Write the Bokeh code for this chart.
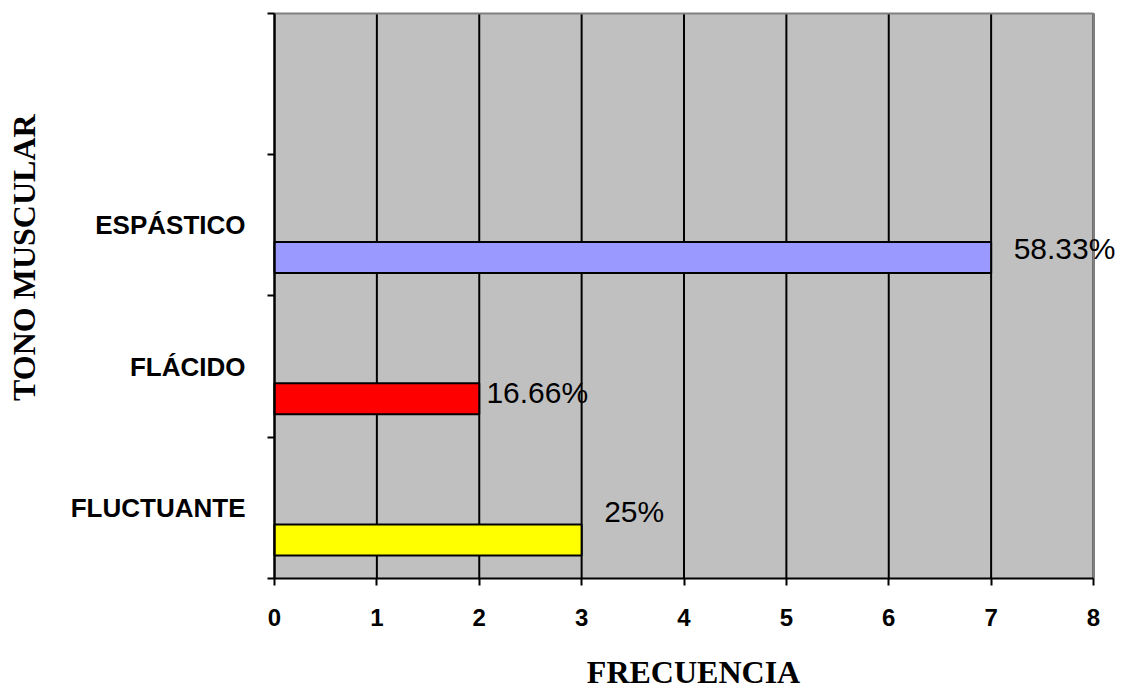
from bokeh.plotting import figure
from bokeh.models import Range1d, FixedTicker, ColumnDataSource
from bokeh.embed import file_html
from bokeh.resources import INLINE
from bokeh.core.properties import value

# Data: frequency per muscle tone category (bottom to top)
categories = ["FLUCTUANTE", "FLÁCIDO", "ESPÁSTICO"]
frecuencia = [3, 2, 7]
porcentajes = ["25%", "16.66%", "58.33%"]
bar_colors = ["#FFFF00", "#FF0000", "#9999FF"]
x_ticks = [0, 1, 2, 3, 4, 5, 6, 7, 8]
band_edges = [0, 1, 2, 3, 4]

# Layout of the value labels: horizontal gap after the bar end (x units)
# and vertical position inside each category band (band units)
label_dx = [0.22, 0.07, 0.22]
label_dy = [0.474, 0.317, 0.336]

X_MAX, Y_MAX = 8, 4
BAR_POS = 0.2725     # bar centre inside its band
BAR_HEIGHT = 0.219
# axis title anchors (data units of the full-page frame)
Y_TITLE_X, Y_TITLE_Y = -2.442, 2.300
X_TITLE_X, X_TITLE_Y = 4.093, -0.665

band = list(range(len(categories)))
bars = ColumnDataSource(dict(
    y=[b + BAR_POS for b in band],
    right=frecuencia,
    color=bar_colors,
))
labels = ColumnDataSource(dict(
    x=[v + dx for v, dx in zip(frecuencia, label_dx)],
    y=[b + dy for b, dy in zip(band, label_dy)],
    text=porcentajes,
))

# The frame covers the whole page; the grey plot area spans 0..X_MAX by
# 0..Y_MAX and both axes are pinned at 0 so nothing gets clipped.
p = figure(
    width=1123, height=694,
    x_range=Range1d(-2.6764, 8.293), y_range=Range1d(-0.8212, 4.0920),
    min_border=0,
    background_fill_color="white", border_fill_color="white",
    outline_line_color=None,
    output_backend="svg", toolbar_location=None,
)
p.xgrid.visible = False
p.ygrid.visible = False

# grey plot area, vertical grid lines and top/right border
p.quad(left=0, right=X_MAX, bottom=0, top=Y_MAX,
       fill_color="#C0C0C0", line_color=None, level="image")
p.segment(x0=x_ticks, y0=[0] * len(x_ticks), x1=x_ticks, y1=[Y_MAX] * len(x_ticks),
          line_color="black", line_width=2)
p.segment(x0=[0, X_MAX], y0=[Y_MAX, 0], x1=[X_MAX, X_MAX], y1=[Y_MAX, Y_MAX],
          line_color="#808080", line_width=2)

# x axis
xa = p.xaxis[0]
xa.fixed_location = 0
xa.bounds = (0, X_MAX)
xa.ticker = FixedTicker(ticks=x_ticks, minor_ticks=[])
xa.axis_line_color = "black"
xa.axis_line_width = 2
xa.major_tick_out = 7
xa.major_tick_in = 0
xa.major_tick_line_color = "black"
xa.major_tick_line_width = 2
xa.minor_tick_line_color = None
xa.major_label_text_font = "Liberation Sans"
xa.major_label_text_font_size = "24px"
xa.major_label_text_font_style = "bold"
xa.major_label_text_color = "black"
xa.major_label_standoff = 23

# y axis: labels centred on the bands, tick marks on the band boundaries
ya = p.yaxis[0]
ya.fixed_location = 0
ya.bounds = (0, Y_MAX)
ya.ticker = FixedTicker(ticks=[b + 0.5 for b in band], minor_ticks=band_edges)
ya.major_label_overrides = {b + 0.5: c for b, c in zip(band, categories)}
ya.axis_line_color = "black"
ya.axis_line_width = 2
ya.major_tick_out = 0
ya.major_tick_in = 0
ya.major_tick_line_color = None
ya.minor_tick_out = 7
ya.minor_tick_in = 0
ya.minor_tick_line_color = "black"
ya.minor_tick_line_width = 2
ya.major_label_text_font = "Liberation Sans"
ya.major_label_text_font_size = "26px"
ya.major_label_text_font_style = "bold"
ya.major_label_text_color = "black"
ya.major_label_standoff = 22

p.hbar(y="y", left=0, right="right", height=BAR_HEIGHT, source=bars,
       fill_color="color", line_color="black", line_width=2)

p.text(x="x", y="y", text="text", source=labels,
       text_font=value("Liberation Sans"), text_font_size=value("30px"),
       text_color="black", text_align="left", text_baseline="middle")

# axis titles
title_style = dict(text_font=value("Liberation Serif"), text_font_size=value("32px"),
                   text_font_style="bold", text_color="black",
                   text_align="center", text_baseline="middle")
p.text(x=[Y_TITLE_X], y=[Y_TITLE_Y], text=["TONO  MUSCULAR"],
       angle=90, angle_units="deg", **title_style)
p.text(x=[X_TITLE_X], y=[X_TITLE_Y], text=["FRECUENCIA"], **title_style)

open("out.html", "w").write(file_html(p, INLINE))
